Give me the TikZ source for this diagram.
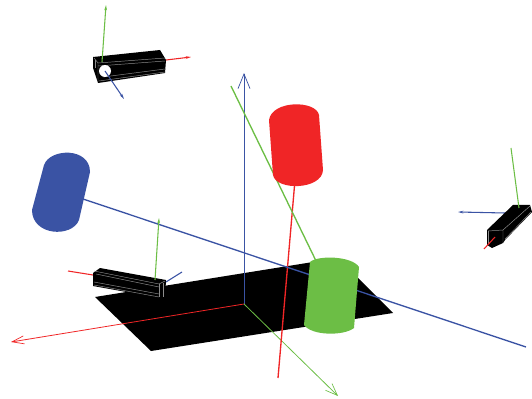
\documentclass[tikz,border=0pt]{standalone}
\usepackage{xcolor}
\definecolor{axred}{HTML}{F02526}
\definecolor{axgreen}{HTML}{6CBE45}
\definecolor{axblue}{HTML}{3A53A4}
\tikzset{
  thinaxis/.style={line width=0.6pt},
  thickaxis/.style={line width=1pt},
  sensoraxis/.style={line width=0.8pt},
  openhead/.style={-{Straight Barb[length=11pt,width=9pt,line width=0.55pt]}},
  smallhead/.style={-{Stealth[length=4pt,width=2pt]}},
  rib/.style={draw=white!55!black,line width=0.35pt}
}
\usetikzlibrary{arrows.meta}
\begin{document}
\begin{tikzpicture}[x=0.75pt,y=-0.75pt]
                \useasboundingbox (0,0) rectangle (532,399);
                % Define axis end points
                \coordinate (O) at (244,304); \coordinate (Oup) at (244,73);
                \coordinate (Oleft) at (11,342); \coordinate (Odown) at (338,396);
                \coordinate (redtop) at (295,180); \coordinate (redend) at (278,378);
                \coordinate (greentop) at (231,86); \coordinate (greenend) at (318,265);
                \coordinate (bluetop) at (80,198); \coordinate (blueend) at (526,347);

                % Black floor
                \fill[black] (95,297) -- (338,258) -- (393,313) -- (151,351) -- cycle;

                % Draw big axes
                \draw[thinaxis,axblue,openhead] (O) -- (Oup);
                \draw[thinaxis,axred,-{Straight Barb[length=9pt,width=6pt,line width=0.5pt]}] (O) -- (Oleft);
                \draw[thinaxis,axgreen,-{Straight Barb[length=9pt,width=7pt,line width=0.5pt]}] (O) -- (Odown);
                \draw[thickaxis,axred] (redtop) -- (redend);
                \draw[thickaxis,axgreen] (greentop) -- (greenend);
                \draw[thickaxis,axblue] (bluetop) -- (blueend);

                % Cylinders
                \fill[axred] (269,120) .. controls (272,100) and (316,100) .. (319,115)
                  -- (323,170) .. controls (322,190) and (276,191) .. (273,175) -- cycle;
                \fill[axgreen] (310,262) .. controls (318,255) and (352,256) .. (359,267)
                  -- (354,328) .. controls (344,336) and (312,336) .. (304,325) -- cycle;
                \fill[axblue] (44,165) .. controls (50,148) and (90,147) .. (90,172)
                  -- (79,220) .. controls (72,238) and (32,236) .. (32,210) -- cycle;

                % Upper sensor
                \coordinate (upA) at (102,62); \coordinate (upB) at (106,5);
                \coordinate (upC) at (166,60); \coordinate (upD) at (191,57);
                \coordinate (upE) at (105,71); \coordinate (upF) at (124,99);
                \draw[sensoraxis,axred,smallhead] (upC) -- (upD);
                \fill[black] (93,57) -- (160,50) -- (166,60) -- (165,73) -- (98,83) -- (93,68) -- cycle;
                \draw[rib] (98,63) -- (165,58);
                \draw[rib] (98,66) -- (165,61);
                \draw[rib] (103,77) -- (165,69);
                \draw[rib] (99,81) -- (165,72);
                \draw[rib] (94,58) -- (98,63) -- (98,82);
                \draw[rib] (95,68) -- (95,60);
                \fill[white] (105,71) circle (6);
                \draw[sensoraxis,axgreen,smallhead] (upA) -- (upB);
                \draw[sensoraxis,axblue,smallhead] (upE) -- (upF);

                % Left sensor
                \coordinate (loA) at (155,280); \coordinate (loB) at (159,218);
                \coordinate (loC) at (93,275); \coordinate (loD) at (68,271);
                \coordinate (loE) at (166,282); \coordinate (loF) at (182,272);
                \draw[sensoraxis,axblue] (loE) -- (loF);
                \draw[sensoraxis,axred] (loC) -- (loD);
                \fill[black] (93,273) -- (100,268) -- (166,280) -- (165,298) -- (160,298) -- (93,286) -- cycle;
                \draw[rib] (94,271) -- (159,284);
                \draw[rib] (96,274) -- (159,287);
                \draw[rib] (94,282) -- (159,294);
                \draw[rib] (94,285) -- (159,297);
                \draw[rib] (159,284) -- (159,297);
                \draw[rib] (163,283) -- (163,297);
                \draw[rib] (159,284) -- (165,281);
                \draw[sensoraxis,axgreen,smallhead] (loA) -- (loB);

                % Right sensor
                \coordinate (riA) at (519,208); \coordinate (riB) at (511,148);
                \coordinate (riC) at (505,213); \coordinate (riD) at (458,212);
                \coordinate (riE) at (495,237); \coordinate (riF) at (484,249);
                \draw[sensoraxis,axblue,smallhead] (riC) -- (riD);
                \fill[black] (487,230) -- (513,205) -- (530,205) -- (532,212) -- (505,240) -- (503,243) -- (492,248) -- (487,245) -- cycle;
                \draw[rib] (488,231) -- (503,230) -- (503,243);
                \draw[rib] (488,231) -- (488,244);
                \draw[rib] (503,230) -- (530,206);
                \draw[rib] (505,239) -- (531,212);
                \draw[sensoraxis,axgreen] (riA) -- (riB);
                \draw[sensoraxis,axred] (riE) -- (riF);
            \end{tikzpicture}
\end{document}
